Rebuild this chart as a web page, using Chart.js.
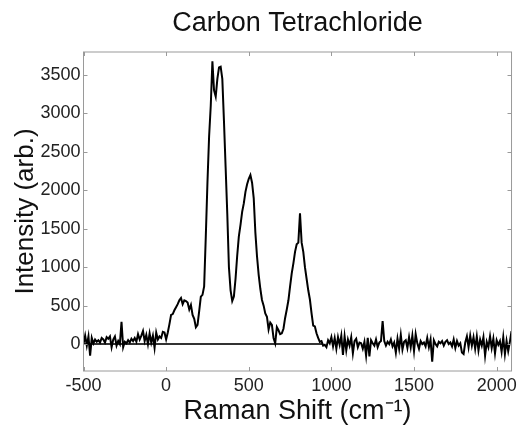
<!DOCTYPE html>
<html>
<head>
<meta charset="utf-8">
<title>Carbon Tetrachloride</title>
<script src="https://cdn.jsdelivr.net/npm/chart.js@4.4.1/dist/chart.umd.min.js"></script>
<style>
  html, body { margin: 0; padding: 0; background: #fff; }
</style>
</head>
<body>
<canvas id="raman" width="521" height="430"></canvas>
<script>
// Raman shift (cm^-1), every 10 cm^-1
const ramanShift = [
  -500, -490, -480, -470, -460, -450, -440, -430, -420, -410,
  -400, -390, -380, -370, -360, -350, -340, -330, -320, -310,
  -300, -290, -280, -270, -260, -250, -240, -230, -220, -210,
  -200, -190, -180, -170, -160, -150, -140, -130, -120, -110,
  -100, -90, -80, -70, -60, -50, -40, -30, -20, -10,
  0, 10, 20, 30, 40, 50, 60, 70, 80, 90,
  100, 110, 120, 130, 140, 150, 160, 170, 180, 190,
  200, 210, 220, 230, 240, 250, 260, 270, 280, 290,
  300, 310, 320, 330, 340, 350, 360, 370, 380, 390,
  400, 410, 420, 430, 440, 450, 460, 470, 480, 490,
  500, 510, 520, 530, 540, 550, 560, 570, 580, 590,
  600, 610, 620, 630, 640, 650, 660, 670, 680, 690,
  700, 710, 720, 730, 740, 750, 760, 770, 780, 790,
  800, 810, 820, 830, 840, 850, 860, 870, 880, 890,
  900, 910, 920, 930, 940, 950, 960, 970, 980, 990,
  1000, 1010, 1020, 1030, 1040, 1050, 1060, 1070, 1080, 1090,
  1100, 1110, 1120, 1130, 1140, 1150, 1160, 1170, 1180, 1190,
  1200, 1210, 1220, 1230, 1240, 1250, 1260, 1270, 1280, 1290,
  1300, 1310, 1320, 1330, 1340, 1350, 1360, 1370, 1380, 1390,
  1400, 1410, 1420, 1430, 1440, 1450, 1460, 1470, 1480, 1490,
  1500, 1510, 1520, 1530, 1540, 1550, 1560, 1570, 1580, 1590,
  1600, 1610, 1620, 1630, 1640, 1650, 1660, 1670, 1680, 1690,
  1700, 1710, 1720, 1730, 1740, 1750, 1760, 1770, 1780, 1790,
  1800, 1810, 1820, 1830, 1840, 1850, 1860, 1870, 1880, 1890,
  1900, 1910, 1920, 1930, 1940, 1950, 1960, 1970, 1980, 1990,
  2000, 2010, 2020, 2030, 2040, 2050, 2060, 2070, 2080, 2090
];

// intensity (arb.) at each shift above
const intensity = [
  0, 110, -20, 100, -150, 80, 10, 60, 30, 50,
  20, 80, 60, 20, 90, 70, 100, -40, 60, 100,
  -20, 40, 0, 290, -40, 30, 10, 50, 20, 70,
  40, 80, 30, 130, 60, 110, 170, 40, 120, 0,
  140, 20, 110, -50, 150, 60, 100, 80, 160, 150,
  60, 150, 260, 380, 390, 440, 480, 520, 570, 600,
  520, 570, 560, 540, 450, 510, 380, 330, 220, 250,
  430, 617, 640, 750, 1400, 2100, 2700, 3100, 3680, 3300,
  3220, 3450, 3600, 3610, 3450, 2900, 2300, 1700, 1000, 700,
  560, 620, 850, 1150, 1400, 1550, 1720, 1830, 1980, 2080,
  2150, 2200, 2100, 1900, 1450, 1140, 900, 720, 574, 500,
  400, 356, 190, 280, 250, 80, 10, 220, 180, 130,
  140, 200, 340, 450, 570, 750, 920, 1050, 1200, 1300,
  1320, 1700, 1320, 1200, 1000, 850, 700, 580, 400, 240,
  230, 140, 80, 30, 40, -20, -10, -40, 50, 10,
  90, -30, 80, -60, 90, -10, 110, -140, 100, -80,
  60, -20, 90, -120, 40, 70, -40, 20, 10, -60,
  30, -150, 80, -160, 50, 10, -20, 60, -40, 20,
  40, 300, 40, -20, 30, 0, 60, -30, 20, -110,
  70, -60, 120, -70, 30, 50, -50, 90, -40, 110,
  -90, 130, 10, -60, 40, 0, 20, -30, 80, -40,
  60, -230, 50, 0, -30, 30, 10, 40, -20, 30,
  50, 0, 20, -30, 60, -50, 40, -20, 10, -110,
  -130, 20, 100, -40, 110, -20, 90, -60, 100, -80,
  60, -20, 90, -150, 30, -40, 100, -50, 70, -120,
  50, -10, 40, -100, 90, -130, 40, -90, 30, 170
];

// flat zero line under the peaks
const baselineShift = [-500, 950];
const baselineIntensity = [0, 0];

const xTicks = [-500, 0, 500, 1000, 1500, 2000];
const yTicks = [0, 500, 1000, 1500, 2000, 2500, 3000, 3500];

const fontFamily = "'Liberation Sans', Arial, Helvetica, sans-serif";

// box around the plot plus short inward ticks on all four sides
const frame = {
  id: 'frame',
  afterDatasetsDraw(chart) {
    const { ctx, chartArea: a, scales } = chart;
    const len = 4;
    ctx.save();
    ctx.strokeStyle = '#9a9a9a';
    ctx.lineWidth = 1;
    ctx.strokeRect(a.left, a.top, a.right - a.left, a.bottom - a.top);
    ctx.beginPath();
    xTicks.forEach(v => {
      const px = Math.round(scales.x.getPixelForValue(v)) + 0.5;
      ctx.moveTo(px, a.bottom); ctx.lineTo(px, a.bottom - len);
      ctx.moveTo(px, a.top); ctx.lineTo(px, a.top + len);
    });
    yTicks.forEach(v => {
      const py = Math.round(scales.y.getPixelForValue(v)) + 0.5;
      ctx.moveTo(a.left, py); ctx.lineTo(a.left + len, py);
      ctx.moveTo(a.right, py); ctx.lineTo(a.right - len, py);
    });
    ctx.stroke();
    ctx.restore();
  }
};

new Chart(document.getElementById('raman'), {
  type: 'line',
  data: {
    datasets: [
      {
        data: ramanShift.map((x, i) => ({ x: x, y: intensity[i] })),
        borderColor: '#000',
        borderWidth: 2,
        pointRadius: 0,
        tension: 0
      },
      {
        data: baselineShift.map((x, i) => ({ x: x, y: baselineIntensity[i] })),
        borderColor: '#333',
        borderWidth: 2,
        pointRadius: 0
      }
    ]
  },
  options: {
    responsive: false,
    animation: false,
    events: [],
    layout: { padding: { left: 0, right: 7.5, top: 0, bottom: 0 } },
    plugins: {
      legend: { display: false },
      tooltip: { enabled: false },
      title: {
        display: true,
        text: 'Carbon Tetrachloride',
        fullSize: false,
        color: '#111',
        font: { family: fontFamily, size: 27, weight: 'normal' },
        padding: { top: 7, bottom: 12.6 }
      }
    },
    scales: {
      x: {
        type: 'linear',
        min: -500,
        max: 2090,
        grid: { display: false, drawTicks: false },
        border: { display: false },
        ticks: {
          padding: 4,
          maxRotation: 0,
          color: '#222',
          font: { family: fontFamily, size: 18 },
          callback: v => String(v)
        },
        afterBuildTicks(scale) { scale.ticks = xTicks.map(v => ({ value: v })); },
        title: {
          display: true,
          text: 'Raman Shift (cm⁻¹)',
          color: '#111',
          font: { family: fontFamily, size: 27 },
          padding: { top: 0, bottom: 2 }
        },
        afterFit(scale) { scale.height = 59; }
      },
      y: {
        min: -350,
        max: 3800,
        grid: { display: false, drawTicks: false },
        border: { display: false },
        ticks: {
          padding: 3,
          color: '#222',
          font: { family: fontFamily, size: 18 },
          callback: v => String(v)
        },
        afterBuildTicks(scale) { scale.ticks = yTicks.map(v => ({ value: v })); },
        title: {
          display: true,
          text: 'Intensity (arb.)',
          color: '#111',
          font: { family: fontFamily, size: 26 },
          padding: { top: 10, bottom: 0 }
        },
        afterFit(scale) { scale.width = 83.5; }
      }
    }
  },
  plugins: [frame]
});
</script>
</body>
</html>
